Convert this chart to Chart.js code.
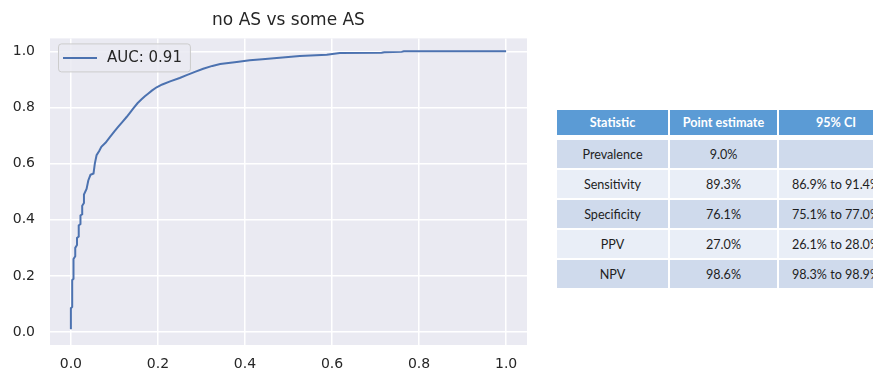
<!DOCTYPE html>
<html>
<head>
<meta charset="utf-8">
<script src="https://cdn.jsdelivr.net/npm/chart.js@4/dist/chart.umd.min.js"></script>
<style>
  html, body { margin: 0; padding: 0; background: #ffffff; overflow: hidden; }
  #wrap { position: relative; width: 873px; height: 373px; overflow: hidden; }
  #roc { position: absolute; left: 0; top: 0; }
  #stats { position: absolute; left: 557px; top: 110px; border-collapse: separate; border-spacing: 0;
           table-layout: fixed; font-family: Lato, "Open Sans", sans-serif; font-size: 12.6px; color: #1e1e1e; }
  #stats th, #stats td { text-align: center; padding: 0; box-sizing: border-box; white-space: nowrap; overflow: hidden; }
  #stats th { background: #5B9BD5; color: #ffffff; font-weight: bold; height: 30px; border-bottom: 5px solid #fff; border-right: 2px solid #fff; }
  #stats td { height: 30px; border-bottom: 2px solid #fff; border-right: 2px solid #fff; }
  #stats tr.odd td { background: #CFDAEC; }
  #stats tr.even td { background: #E9EEF7; }
</style>
</head>
<body>
<div id="wrap">
  <canvas id="roc" width="540" height="373"></canvas>
  <table id="stats"></table>
</div>
<script>
// ---- chart data ----
const chartTitle = 'no AS vs some AS';
const seriesLabel = 'AUC: 0.91';
const xTicks = [0.0, 0.2, 0.4, 0.6, 0.8, 1.0];
const yTicks = [0.0, 0.2, 0.4, 0.6, 0.8, 1.0];
const fpr = [0, 0, 0.003, 0.003, 0.006, 0.006, 0.010, 0.010, 0.014, 0.014, 0.018, 0.018, 0.022, 0.022,
  0.026, 0.026, 0.030, 0.030, 0.036, 0.040, 0.045, 0.052, 0.055, 0.059, 0.065, 0.070, 0.080, 0.090,
  0.100, 0.108, 0.118, 0.128, 0.136, 0.143, 0.153, 0.163, 0.170, 0.178, 0.186, 0.197, 0.210, 0.228, 0.250,
  0.266, 0.285, 0.304, 0.325, 0.343, 0.381, 0.411, 0.440, 0.473, 0.526, 0.588, 0.618, 0.714, 0.720,
  0.760, 0.765, 1.0];
const tpr = [0.01, 0.085, 0.09, 0.185, 0.19, 0.26, 0.27, 0.30, 0.31, 0.335, 0.34, 0.38, 0.385, 0.415,
  0.42, 0.45, 0.46, 0.49, 0.51, 0.54, 0.56, 0.565, 0.60, 0.63, 0.645, 0.66, 0.675, 0.695,
  0.715, 0.73, 0.748, 0.766, 0.782, 0.796, 0.815, 0.830, 0.840, 0.850, 0.860, 0.872, 0.882, 0.893, 0.905,
  0.915, 0.927, 0.938, 0.948, 0.955, 0.962, 0.968, 0.972, 0.976, 0.983, 0.988, 0.994, 0.995, 0.997,
  0.998, 1.0, 1.0];

// ---- table data ----
const tableHeaders = ['Statistic', 'Point estimate', '95% CI'];
const statNames = ['Prevalence', 'Sensitivity', 'Specificity', 'PPV', 'NPV'];
const pointEstimates = ['9.0%', '89.3%', '76.1%', '27.0%', '98.6%'];
const confIntervals = ['', '86.9% to 91.4%', '75.1% to 77.0%', '26.1% to 28.0%', '98.3% to 98.9%'];

// build table
(function () {
  const t = document.getElementById('stats');
  const widths = [113, 109, 116];
  const cg = document.createElement('colgroup');
  widths.forEach(w => { const c = document.createElement('col'); c.style.width = w + 'px'; cg.appendChild(c); });
  t.appendChild(cg);
  t.style.width = widths.reduce((a, b) => a + b, 0) + 'px';
  const hr = document.createElement('tr');
  tableHeaders.forEach(h => { const th = document.createElement('th'); th.textContent = h; hr.appendChild(th); });
  t.appendChild(hr);
  statNames.forEach((n, i) => {
    const tr = document.createElement('tr');
    tr.className = i % 2 === 0 ? 'odd' : 'even';
    [n, pointEstimates[i], confIntervals[i]].forEach(v => {
      const td = document.createElement('td'); td.textContent = v; tr.appendChild(td);
    });
    t.appendChild(tr);
  });
})();

const points = fpr.map((x, i) => ({ x: x, y: tpr[i] }));
const lineColor = '#4C72B0';
const textColor = '#262626';
const fontFam = '"DejaVu Sans", sans-serif';

const areaBg = {
  id: 'areaBg',
  beforeDraw(chart) {
    const { ctx, chartArea: a } = chart;
    ctx.save();
    ctx.fillStyle = '#EAEAF2';
    ctx.fillRect(a.left, a.top, a.right - a.left, a.bottom - a.top);
    ctx.restore();
  }
};

const boxLegend = {
  id: 'boxLegend',
  afterDatasetsDraw(chart) {
    const { ctx, chartArea: a } = chart;
    const ds = chart.data.datasets[0];
    ctx.save();
    ctx.font = '15px ' + fontFam;
    const tw = ctx.measureText(ds.label).width;
    const x = a.left + 8, y = a.top + 5, h = 28, w = 49 + tw + 8;
    ctx.beginPath();
    if (ctx.roundRect) ctx.roundRect(x + 0.5, y + 0.5, w, h, 3); else ctx.rect(x + 0.5, y + 0.5, w, h);
    ctx.fillStyle = 'rgba(234,234,242,0.85)';
    ctx.fill();
    ctx.strokeStyle = '#CCCCCC';
    ctx.lineWidth = 1;
    ctx.stroke();
    ctx.beginPath();
    ctx.moveTo(x + 5, y + 14.5);
    ctx.lineTo(x + 39, y + 14.5);
    ctx.strokeStyle = ds.borderColor;
    ctx.lineWidth = 2;
    ctx.stroke();
    ctx.fillStyle = textColor;
    ctx.textBaseline = 'middle';
    ctx.fillText(ds.label, x + 49, y + 15);
    ctx.restore();
  }
};

new Chart(document.getElementById('roc'), {
  type: 'line',
  data: {
    datasets: [{
      label: seriesLabel,
      data: points,
      borderColor: lineColor,
      backgroundColor: lineColor,
      borderWidth: 2,
      pointRadius: 0,
      tension: 0,
      fill: false
    }]
  },
  options: {
    responsive: false,
    animation: false,
    layout: { padding: { left: 0, right: 13, top: 0, bottom: 0 } },
    plugins: {
      legend: { display: false },
      tooltip: { enabled: false },
      title: {
        display: true,
        text: chartTitle,
        fullSize: false,
        color: textColor,
        font: { family: fontFam, size: 17, weight: 'normal' },
        padding: { top: 10, bottom: 8 }
      }
    },
    scales: {
      x: {
        type: 'linear',
        min: -0.048,
        max: 1.048,
        afterBuildTicks: s => { s.ticks = xTicks.map(v => ({ value: v })); },
        afterFit: s => { s.height = 28; },
        border: { display: false },
        grid: { color: '#ffffff', lineWidth: 1.5, drawTicks: false },
        ticks: {
          color: textColor, padding: 11,
          font: { family: fontFam, size: 14 },
          callback: v => Number(v).toFixed(1)
        }
      },
      y: {
        type: 'linear',
        min: -0.046,
        max: 1.046,
        afterBuildTicks: s => { s.ticks = yTicks.map(v => ({ value: v })); },
        afterFit: s => { s.width = 50; },
        border: { display: false },
        grid: { color: '#ffffff', lineWidth: 1.5, drawTicks: false },
        ticks: {
          color: textColor, padding: 15,
          font: { family: fontFam, size: 14 },
          callback: v => Number(v).toFixed(1)
        }
      }
    }
  },
  plugins: [areaBg, boxLegend]
});
</script>
</body>
</html>
